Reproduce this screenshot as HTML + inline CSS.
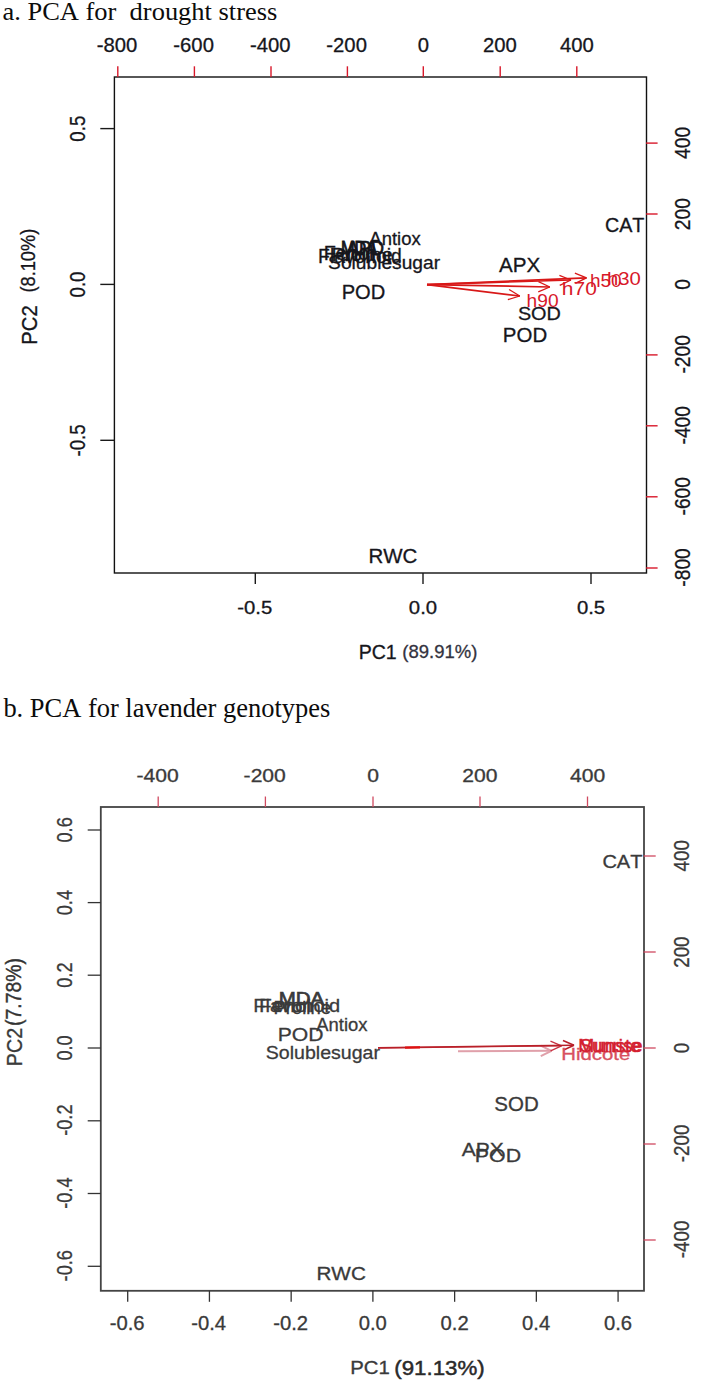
<!DOCTYPE html>
<html><head><meta charset="utf-8"><style>
html,body{margin:0;padding:0;background:#fff;}
body{width:708px;height:1384px;overflow:hidden;}
svg{display:block;}
.sans{font-family:"Liberation Sans", sans-serif;}
.serif{font-family:"Liberation Serif", serif;}
text{font-kerning:none;}
</style></head><body>
<svg width="708" height="1384" viewBox="0 0 708 1384">
<rect width="708" height="1384" fill="#fff"/>
<text xml:space="preserve" class="serif" transform="translate(2.47 20.3) scale(1.01 1)" font-size="26.2" fill="#0c0c0c">a. PCA for  drought stress</text>
<rect x="114.4" y="77" width="532.1" height="496" fill="none" stroke="#111" stroke-width="1.4"/>
<line x1="117.8" y1="66.3" x2="117.8" y2="77" stroke="#d8182a" stroke-width="1.4"/>
<text xml:space="preserve" class="sans" transform="translate(96.74 52) scale(0.97 1)" font-size="20.91" fill="#16161c" stroke="#16161c" stroke-width="0.3">-800</text>
<line x1="194.4" y1="66.3" x2="194.4" y2="77" stroke="#d8182a" stroke-width="1.4"/>
<text xml:space="preserve" class="sans" transform="translate(173.34 52) scale(0.97 1)" font-size="20.91" fill="#16161c" stroke="#16161c" stroke-width="0.3">-600</text>
<line x1="271" y1="66.3" x2="271" y2="77" stroke="#d8182a" stroke-width="1.4"/>
<text xml:space="preserve" class="sans" transform="translate(249.94 52) scale(0.97 1)" font-size="20.91" fill="#16161c" stroke="#16161c" stroke-width="0.3">-400</text>
<line x1="347.4" y1="66.3" x2="347.4" y2="77" stroke="#d8182a" stroke-width="1.4"/>
<text xml:space="preserve" class="sans" transform="translate(326.34 52) scale(0.97 1)" font-size="20.91" fill="#16161c" stroke="#16161c" stroke-width="0.3">-200</text>
<line x1="423.3" y1="66.3" x2="423.3" y2="77" stroke="#d8182a" stroke-width="1.4"/>
<text xml:space="preserve" class="sans" transform="translate(417.63 52) scale(0.97 1)" font-size="20.91" fill="#16161c" stroke="#16161c" stroke-width="0.3">0</text>
<line x1="500.2" y1="66.3" x2="500.2" y2="77" stroke="#d8182a" stroke-width="1.4"/>
<text xml:space="preserve" class="sans" transform="translate(483.08 52) scale(0.97 1)" font-size="20.91" fill="#16161c" stroke="#16161c" stroke-width="0.3">200</text>
<line x1="576.8" y1="66.3" x2="576.8" y2="77" stroke="#d8182a" stroke-width="1.4"/>
<text xml:space="preserve" class="sans" transform="translate(559.96 52) scale(0.97 1)" font-size="20.91" fill="#16161c" stroke="#16161c" stroke-width="0.3">400</text>
<line x1="646" y1="143.1" x2="657.6" y2="143.1" stroke="#d8182a" stroke-width="1.4"/>
<text xml:space="preserve" class="sans" transform="translate(689.5 159) rotate(-90) scale(0.84 1)" font-size="22.91" fill="#16161c" stroke="#16161c" stroke-width="0.3">400</text>
<line x1="646" y1="214" x2="657.6" y2="214" stroke="#d8182a" stroke-width="1.4"/>
<text xml:space="preserve" class="sans" transform="translate(689.5 230.17) rotate(-90) scale(0.84 1)" font-size="22.91" fill="#16161c" stroke="#16161c" stroke-width="0.3">200</text>
<text xml:space="preserve" class="sans" transform="translate(689.5 289.75) rotate(-90) scale(0.84 1)" font-size="22.91" fill="#16161c" stroke="#16161c" stroke-width="0.3">0</text>
<line x1="646" y1="354.9" x2="657.6" y2="354.9" stroke="#d8182a" stroke-width="1.4"/>
<text xml:space="preserve" class="sans" transform="translate(689.5 373.61) rotate(-90) scale(0.84 1)" font-size="22.91" fill="#16161c" stroke="#16161c" stroke-width="0.3">-200</text>
<line x1="646" y1="425.8" x2="657.6" y2="425.8" stroke="#d8182a" stroke-width="1.4"/>
<text xml:space="preserve" class="sans" transform="translate(689.5 444.51) rotate(-90) scale(0.84 1)" font-size="22.91" fill="#16161c" stroke="#16161c" stroke-width="0.3">-400</text>
<line x1="646" y1="496.8" x2="657.6" y2="496.8" stroke="#d8182a" stroke-width="1.4"/>
<text xml:space="preserve" class="sans" transform="translate(689.5 515.51) rotate(-90) scale(0.84 1)" font-size="22.91" fill="#16161c" stroke="#16161c" stroke-width="0.3">-600</text>
<line x1="646" y1="568" x2="657.6" y2="568" stroke="#d8182a" stroke-width="1.4"/>
<text xml:space="preserve" class="sans" transform="translate(689.5 586.71) rotate(-90) scale(0.84 1)" font-size="22.91" fill="#16161c" stroke="#16161c" stroke-width="0.3">-800</text>
<line x1="100.3" y1="128.6" x2="114.5" y2="128.6" stroke="#1a1a1a" stroke-width="1.4"/>
<text xml:space="preserve" class="sans" transform="translate(84.5 141.63) rotate(-90) scale(0.82 1)" font-size="22.77" fill="#16161c" stroke="#16161c" stroke-width="0.3">0.5</text>
<line x1="100.3" y1="284.4" x2="114.5" y2="284.4" stroke="#1a1a1a" stroke-width="1.4"/>
<text xml:space="preserve" class="sans" transform="translate(84.5 297.46) rotate(-90) scale(0.82 1)" font-size="22.77" fill="#16161c" stroke="#16161c" stroke-width="0.3">0.0</text>
<line x1="100.3" y1="440.3" x2="114.5" y2="440.3" stroke="#1a1a1a" stroke-width="1.4"/>
<text xml:space="preserve" class="sans" transform="translate(84.5 456.51) rotate(-90) scale(0.82 1)" font-size="22.77" fill="#16161c" stroke="#16161c" stroke-width="0.3">-0.5</text>
<line x1="255.3" y1="573" x2="255.3" y2="584" stroke="#1a1a1a" stroke-width="1.4"/>
<text xml:space="preserve" class="sans" transform="translate(237.27 613.8) scale(1.1 1)" font-size="18.47" fill="#16161c" stroke="#16161c" stroke-width="0.3">-0.5</text>
<line x1="423" y1="573" x2="423" y2="584" stroke="#1a1a1a" stroke-width="1.4"/>
<text xml:space="preserve" class="sans" transform="translate(408.87 613.8) scale(1.1 1)" font-size="18.47" fill="#16161c" stroke="#16161c" stroke-width="0.3">0.0</text>
<line x1="591" y1="573" x2="591" y2="584" stroke="#1a1a1a" stroke-width="1.4"/>
<text xml:space="preserve" class="sans" transform="translate(576.9 613.8) scale(1.1 1)" font-size="18.47" fill="#16161c" stroke="#16161c" stroke-width="0.3">0.5</text>
<text xml:space="preserve" class="sans" transform="translate(358.69 659.1) scale(0.99 1)" font-size="19.76" fill="#16161c" stroke="#16161c" stroke-width="0.3">PC1</text>
<text xml:space="preserve" class="sans" transform="translate(402.25 658.3) scale(0.97 1)" font-size="19.1" fill="#333340" stroke="#333340" stroke-width="0.3">(89.91%)</text>
<text xml:space="preserve" class="sans" transform="translate(37.1 344.65) rotate(-90) scale(0.94 1)" font-size="21.48" fill="#16161c" stroke="#16161c" stroke-width="0.3">PC2</text>
<text xml:space="preserve" class="sans" transform="translate(35.3 292.53) rotate(-90) scale(0.93 1)" font-size="19.6" fill="#16161c" stroke="#16161c" stroke-width="0.3">(8.10%)</text>
<text xml:space="preserve" class="sans" transform="translate(369.36 244.8) scale(0.97 1)" font-size="19.04" fill="#16161c" stroke="#16161c" stroke-width="0.3">Antiox</text>
<text xml:space="preserve" class="sans" transform="translate(323.67 259.6) scale(1 1)" font-size="19.87" fill="#16161c" stroke="#16161c" stroke-width="0.3">Fenol</text>
<text xml:space="preserve" class="sans" transform="translate(341.07 255.2) scale(0.81 1)" font-size="20.06" fill="#16161c" stroke="#16161c" stroke-width="0.9">MDA</text>
<text xml:space="preserve" class="sans" transform="translate(346.96 255.4) scale(0.91 1)" font-size="19.77" fill="#16161c" stroke="#16161c" stroke-width="0.7">APD</text>
<text xml:space="preserve" class="sans" transform="translate(331.38 260.6) scale(1.08 1)" font-size="18.22" fill="#16161c" stroke="#16161c" stroke-width="0.3">Proline</text>
<text xml:space="preserve" class="sans" transform="translate(318.11 263.2) scale(1 1)" font-size="19.32" fill="#16161c" stroke="#16161c" stroke-width="0.3">Flavonoid</text>
<text xml:space="preserve" class="sans" transform="translate(328.12 269.2) scale(1.07 1)" font-size="17.94" fill="#16161c" stroke="#16161c" stroke-width="0.3">Solublesugar</text>
<text xml:space="preserve" class="sans" transform="translate(341.65 299) scale(0.99 1)" font-size="20.34" fill="#16161c" stroke="#16161c" stroke-width="0.3">POD</text>
<text xml:space="preserve" class="sans" transform="translate(498.96 271.5) scale(1 1)" font-size="20.64" fill="#16161c" stroke="#16161c" stroke-width="0.3">APX</text>
<text xml:space="preserve" class="sans" transform="translate(517.9 319.7) scale(1.05 1)" font-size="18.9" fill="#16161c" stroke="#16161c" stroke-width="0.3">SOD</text>
<text xml:space="preserve" class="sans" transform="translate(502.83 342) scale(1.02 1)" font-size="20.05" fill="#16161c" stroke="#16161c" stroke-width="0.3">POD</text>
<text xml:space="preserve" class="sans" transform="translate(604.9 231.8) scale(1.02 1)" font-size="19.33" fill="#16161c" stroke="#16161c" stroke-width="0.3">CAT</text>
<text xml:space="preserve" class="sans" transform="translate(368.52 563) scale(1.02 1)" font-size="20.05" fill="#16161c" stroke="#16161c" stroke-width="0.3">RWC</text>
<line x1="427" y1="284.6" x2="586.5" y2="277.8" stroke="#d81818" stroke-width="1.7"/>
<line x1="586.5" y1="277.8" x2="575.31" y2="283.37" stroke="#d81818" stroke-width="1.3"/>
<line x1="586.5" y1="277.8" x2="574.87" y2="273.21" stroke="#d81818" stroke-width="1.3"/>
<line x1="427" y1="284.6" x2="571" y2="280" stroke="#d81818" stroke-width="1.7"/>
<line x1="571" y1="280" x2="559.75" y2="285.45" stroke="#d81818" stroke-width="1.3"/>
<line x1="571" y1="280" x2="559.42" y2="275.28" stroke="#d81818" stroke-width="1.3"/>
<line x1="427" y1="284.6" x2="549.8" y2="287" stroke="#d81818" stroke-width="1.7"/>
<line x1="549.8" y1="287" x2="538.28" y2="291.86" stroke="#d81818" stroke-width="1.3"/>
<line x1="549.8" y1="287" x2="538.48" y2="281.69" stroke="#d81818" stroke-width="1.3"/>
<line x1="427" y1="284.6" x2="519.8" y2="296" stroke="#d81818" stroke-width="1.7"/>
<line x1="519.8" y1="296" x2="507.85" y2="299.65" stroke="#d81818" stroke-width="1.3"/>
<line x1="519.8" y1="296" x2="509.09" y2="289.56" stroke="#d81818" stroke-width="1.3"/>
<text xml:space="preserve" class="sans" transform="translate(526.57 307) scale(1.07 1)" font-size="17.94" fill="#d8182a" stroke-width="0">h90</text>
<text xml:space="preserve" class="sans" transform="translate(561.85 295.4) scale(1.15 1)" font-size="18.22" fill="#d8182a" stroke-width="0">h70</text>
<text xml:space="preserve" class="sans" transform="translate(589.98 287) scale(1.02 1)" font-size="18.63" fill="#d8182a" stroke-width="0">h50</text>
<text xml:space="preserve" class="sans" transform="translate(606.99 284.8) scale(1.16 1)" font-size="17.53" fill="#d8182a" stroke-width="0">h30</text>
<text xml:space="preserve" class="serif" transform="translate(3.4 717.3) scale(0.98 1)" font-size="27" fill="#0c0c0c">b. PCA for lavender genotypes</text>
<rect x="100.8" y="807" width="543.2" height="483.8" fill="none" stroke="#444" stroke-width="1.8"/>
<line x1="158.2" y1="796.5" x2="158.2" y2="807" stroke="#d04a60" stroke-width="1.3"/>
<text xml:space="preserve" class="sans" transform="translate(136.4 781.9) scale(1.18 1)" font-size="17.9" fill="#3a3a3a" stroke="#3a3a3a" stroke-width="0.3">-400</text>
<line x1="265.4" y1="796.5" x2="265.4" y2="807" stroke="#d04a60" stroke-width="1.3"/>
<text xml:space="preserve" class="sans" transform="translate(243.6 781.9) scale(1.18 1)" font-size="17.9" fill="#3a3a3a" stroke="#3a3a3a" stroke-width="0.3">-200</text>
<line x1="373" y1="796.5" x2="373" y2="807" stroke="#d04a60" stroke-width="1.3"/>
<text xml:space="preserve" class="sans" transform="translate(367.13 781.9) scale(1.18 1)" font-size="17.9" fill="#3a3a3a" stroke="#3a3a3a" stroke-width="0.3">0</text>
<line x1="480" y1="796.5" x2="480" y2="807" stroke="#d04a60" stroke-width="1.3"/>
<text xml:space="preserve" class="sans" transform="translate(462.26 781.9) scale(1.18 1)" font-size="17.9" fill="#3a3a3a" stroke="#3a3a3a" stroke-width="0.3">200</text>
<line x1="587.5" y1="796.5" x2="587.5" y2="807" stroke="#d04a60" stroke-width="1.3"/>
<text xml:space="preserve" class="sans" transform="translate(570.05 781.9) scale(1.18 1)" font-size="17.9" fill="#3a3a3a" stroke="#3a3a3a" stroke-width="0.3">400</text>
<line x1="643.5" y1="856" x2="655.7" y2="856" stroke="#d04a60" stroke-width="1.3"/>
<text xml:space="preserve" class="sans" transform="translate(688.5 871.57) rotate(-90) scale(0.86 1)" font-size="21.91" fill="#3a3a3a" stroke="#3a3a3a" stroke-width="0.3">400</text>
<line x1="643.5" y1="952" x2="655.7" y2="952" stroke="#d04a60" stroke-width="1.3"/>
<text xml:space="preserve" class="sans" transform="translate(688.5 967.83) rotate(-90) scale(0.86 1)" font-size="21.91" fill="#3a3a3a" stroke="#3a3a3a" stroke-width="0.3">200</text>
<line x1="643.5" y1="1048" x2="655.7" y2="1048" stroke="#d04a60" stroke-width="1.3"/>
<text xml:space="preserve" class="sans" transform="translate(688.5 1053.24) rotate(-90) scale(0.86 1)" font-size="21.91" fill="#3a3a3a" stroke="#3a3a3a" stroke-width="0.3">0</text>
<line x1="643.5" y1="1144" x2="655.7" y2="1144" stroke="#d04a60" stroke-width="1.3"/>
<text xml:space="preserve" class="sans" transform="translate(688.5 1162.31) rotate(-90) scale(0.86 1)" font-size="21.91" fill="#3a3a3a" stroke="#3a3a3a" stroke-width="0.3">-200</text>
<line x1="643.5" y1="1240" x2="655.7" y2="1240" stroke="#d04a60" stroke-width="1.3"/>
<text xml:space="preserve" class="sans" transform="translate(688.5 1258.31) rotate(-90) scale(0.86 1)" font-size="21.91" fill="#3a3a3a" stroke="#3a3a3a" stroke-width="0.3">-400</text>
<line x1="87.7" y1="830" x2="100.8" y2="830" stroke="#333" stroke-width="1.3"/>
<text xml:space="preserve" class="sans" transform="translate(71.8 842.52) rotate(-90) scale(0.84 1)" font-size="21.63" fill="#3a3a3a" stroke="#3a3a3a" stroke-width="0.3">0.6</text>
<line x1="87.7" y1="902.6" x2="100.8" y2="902.6" stroke="#333" stroke-width="1.3"/>
<text xml:space="preserve" class="sans" transform="translate(71.8 915.25) rotate(-90) scale(0.84 1)" font-size="21.63" fill="#3a3a3a" stroke="#3a3a3a" stroke-width="0.3">0.4</text>
<line x1="87.7" y1="975.2" x2="100.8" y2="975.2" stroke="#333" stroke-width="1.3"/>
<text xml:space="preserve" class="sans" transform="translate(71.8 987.66) rotate(-90) scale(0.84 1)" font-size="21.63" fill="#3a3a3a" stroke="#3a3a3a" stroke-width="0.3">0.2</text>
<line x1="87.7" y1="1048" x2="100.8" y2="1048" stroke="#333" stroke-width="1.3"/>
<text xml:space="preserve" class="sans" transform="translate(71.8 1060.57) rotate(-90) scale(0.84 1)" font-size="21.63" fill="#3a3a3a" stroke="#3a3a3a" stroke-width="0.3">0.0</text>
<line x1="87.7" y1="1120.8" x2="100.8" y2="1120.8" stroke="#333" stroke-width="1.3"/>
<text xml:space="preserve" class="sans" transform="translate(71.8 1135.82) rotate(-90) scale(0.84 1)" font-size="21.63" fill="#3a3a3a" stroke="#3a3a3a" stroke-width="0.3">-0.2</text>
<line x1="87.7" y1="1193.5" x2="100.8" y2="1193.5" stroke="#333" stroke-width="1.3"/>
<text xml:space="preserve" class="sans" transform="translate(71.8 1208.71) rotate(-90) scale(0.84 1)" font-size="21.63" fill="#3a3a3a" stroke="#3a3a3a" stroke-width="0.3">-0.4</text>
<line x1="87.7" y1="1266.3" x2="100.8" y2="1266.3" stroke="#333" stroke-width="1.3"/>
<text xml:space="preserve" class="sans" transform="translate(71.8 1281.38) rotate(-90) scale(0.84 1)" font-size="21.63" fill="#3a3a3a" stroke="#3a3a3a" stroke-width="0.3">-0.6</text>
<line x1="127.7" y1="1290.8" x2="127.7" y2="1301.8" stroke="#333" stroke-width="1.3"/>
<text xml:space="preserve" class="sans" transform="translate(109.66 1330.4) scale(1.01 1)" font-size="20.05" fill="#3a3a3a" stroke="#3a3a3a" stroke-width="0.3">-0.6</text>
<line x1="209.43" y1="1290.8" x2="209.43" y2="1301.8" stroke="#333" stroke-width="1.3"/>
<text xml:space="preserve" class="sans" transform="translate(191.24 1330.4) scale(1.01 1)" font-size="20.05" fill="#3a3a3a" stroke="#3a3a3a" stroke-width="0.3">-0.4</text>
<line x1="291.16" y1="1290.8" x2="291.16" y2="1301.8" stroke="#333" stroke-width="1.3"/>
<text xml:space="preserve" class="sans" transform="translate(273.19 1330.4) scale(1.01 1)" font-size="20.05" fill="#3a3a3a" stroke="#3a3a3a" stroke-width="0.3">-0.2</text>
<line x1="372.89" y1="1290.8" x2="372.89" y2="1301.8" stroke="#333" stroke-width="1.3"/>
<text xml:space="preserve" class="sans" transform="translate(358.74 1330.4) scale(1.01 1)" font-size="20.05" fill="#3a3a3a" stroke="#3a3a3a" stroke-width="0.3">0.0</text>
<line x1="454.62" y1="1290.8" x2="454.62" y2="1301.8" stroke="#333" stroke-width="1.3"/>
<text xml:space="preserve" class="sans" transform="translate(440.59 1330.4) scale(1.01 1)" font-size="20.05" fill="#3a3a3a" stroke="#3a3a3a" stroke-width="0.3">0.2</text>
<line x1="536.35" y1="1290.8" x2="536.35" y2="1301.8" stroke="#333" stroke-width="1.3"/>
<text xml:space="preserve" class="sans" transform="translate(522.11 1330.4) scale(1.01 1)" font-size="20.05" fill="#3a3a3a" stroke="#3a3a3a" stroke-width="0.3">0.4</text>
<line x1="618.08" y1="1290.8" x2="618.08" y2="1301.8" stroke="#333" stroke-width="1.3"/>
<text xml:space="preserve" class="sans" transform="translate(603.98 1330.4) scale(1.01 1)" font-size="20.05" fill="#3a3a3a" stroke="#3a3a3a" stroke-width="0.3">0.6</text>
<text xml:space="preserve" class="sans" transform="translate(350.14 1373.7) scale(1.12 1)" font-size="18.19" fill="#3a3a3a" stroke="#3a3a3a" stroke-width="0.3">PC1</text>
<text xml:space="preserve" class="sans" transform="translate(394.21 1375.32) scale(1.1 1)" font-size="20.3" fill="#2a2a2a" stroke="#2a2a2a" stroke-width="0.45">(91.13%)</text>
<text xml:space="preserve" class="sans" transform="translate(22.1 1066.21) rotate(-90) scale(0.9 1)" font-size="21.91" fill="#3a3a3a" stroke="#3a3a3a" stroke-width="0.3">PC2</text>
<text xml:space="preserve" class="sans" transform="translate(21.44 1025.91) rotate(-90) scale(0.88 1)" font-size="22" fill="#333" stroke="#333" stroke-width="0.4">(7.78%)</text>
<text xml:space="preserve" class="sans" transform="translate(602.38 868.1) scale(1.12 1)" font-size="17.9" fill="#3a3a3a" stroke="#3a3a3a" stroke-width="0.3">CAT</text>
<text xml:space="preserve" class="sans" transform="translate(278.72 1004.8) scale(1.1 1)" font-size="18.6" fill="#3a3a3a" stroke="#3a3a3a" stroke-width="0.7">MDA</text>
<text xml:space="preserve" class="sans" transform="translate(258.88 1011.8) scale(1.15 1)" font-size="18.22" fill="#3a3a3a" stroke="#3a3a3a" stroke-width="0.3">Fenol</text>
<text xml:space="preserve" class="sans" transform="translate(253.36 1011.8) scale(1.1 1)" font-size="18.22" fill="#3a3a3a" stroke="#3a3a3a" stroke-width="0.3">Flavonoid</text>
<text xml:space="preserve" class="sans" transform="translate(273.49 1014) scale(1.03 1)" font-size="17.94" fill="#3a3a3a" stroke="#3a3a3a" stroke-width="0.3">Proline</text>
<text xml:space="preserve" class="sans" transform="translate(316.26 1031.2) scale(1.05 1)" font-size="17.53" fill="#3a3a3a" stroke="#3a3a3a" stroke-width="0.3">Antiox</text>
<text xml:space="preserve" class="sans" transform="translate(277.66 1040.9) scale(1.11 1)" font-size="19.05" fill="#3a3a3a" stroke="#3a3a3a" stroke-width="0.3">POD</text>
<text xml:space="preserve" class="sans" transform="translate(265.81 1058.6) scale(1.02 1)" font-size="19.18" fill="#3a3a3a" stroke="#3a3a3a" stroke-width="0.3">Solublesugar</text>
<text xml:space="preserve" class="sans" transform="translate(494.36 1110.7) scale(1.03 1)" font-size="19.91" fill="#3a3a3a" stroke="#3a3a3a" stroke-width="0.3">SOD</text>
<text xml:space="preserve" class="sans" transform="translate(461.76 1156.4) scale(1.12 1)" font-size="18.75" fill="#3a3a3a" stroke="#3a3a3a" stroke-width="0.3">APX</text>
<text xml:space="preserve" class="sans" transform="translate(474.85 1161.7) scale(1.12 1)" font-size="19.05" fill="#3a3a3a" stroke="#3a3a3a" stroke-width="0.3">POD</text>
<text xml:space="preserve" class="sans" transform="translate(316.39 1279.9) scale(1.14 1)" font-size="18.19" fill="#3a3a3a" stroke="#3a3a3a" stroke-width="0.3">RWC</text>
<line x1="458" y1="1051.3" x2="551.5" y2="1050.8" stroke="#e0a0aa" stroke-width="2"/>
<line x1="551.5" y1="1050.8" x2="540.74" y2="1056.12" stroke="#e0a0aa" stroke-width="2"/>
<line x1="551.5" y1="1050.8" x2="540.69" y2="1045.6" stroke="#e0a0aa" stroke-width="2"/>
<line x1="378" y1="1048" x2="561.5" y2="1045.8" stroke="#c83040" stroke-width="1.3"/>
<line x1="561.5" y1="1045.8" x2="550.6" y2="1050.81" stroke="#c83040" stroke-width="1.3"/>
<line x1="561.5" y1="1045.8" x2="550.48" y2="1041.05" stroke="#c83040" stroke-width="1.3"/>
<line x1="378" y1="1047.8" x2="574" y2="1045.2" stroke="#b82028" stroke-width="1.5"/>
<line x1="574" y1="1045.2" x2="563.1" y2="1050.23" stroke="#b82028" stroke-width="1.5"/>
<line x1="574" y1="1045.2" x2="562.97" y2="1040.46" stroke="#b82028" stroke-width="1.5"/>
<line x1="405" y1="1047.6" x2="420" y2="1047.4" stroke="#e01010" stroke-width="2.2"/>
<text xml:space="preserve" class="sans" transform="translate(561.33 1060.3) scale(1.24 1)" font-size="16.42" fill="#d85060" stroke="#d85060" stroke-width="0.3">Hidcote</text>
<text xml:space="preserve" class="sans" transform="translate(578.13 1052) scale(1.03 1)" font-size="18.6" fill="#d42030" stroke="#d42030" stroke-width="0.5">Munste</text>
<text xml:space="preserve" class="sans" transform="translate(579.65 1052) scale(1.05 1)" font-size="17.66" fill="#d42030" stroke="#d42030" stroke-width="0.4">Sunrise</text>
</svg>
</body></html>
